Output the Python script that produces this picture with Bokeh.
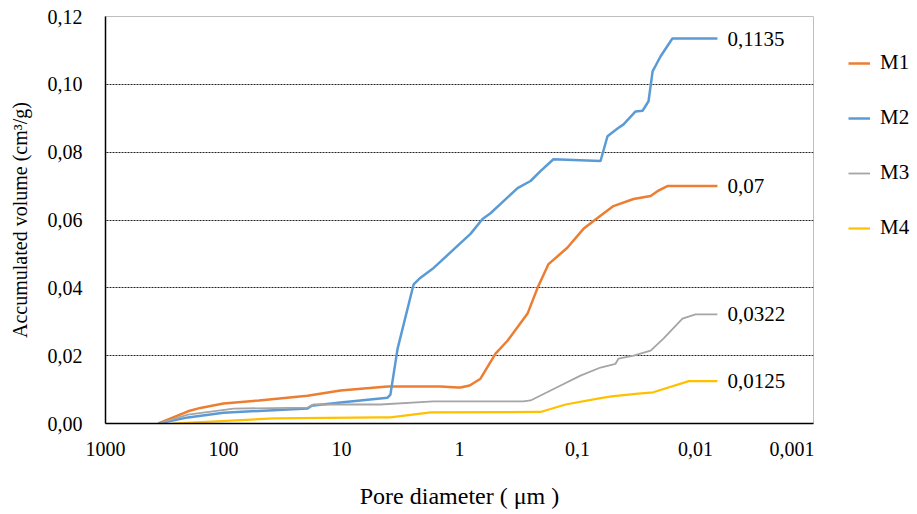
from bokeh.plotting import figure
from bokeh.layouts import row
from bokeh.models import Range1d, FixedTicker, Legend, LegendItem, ColumnDataSource
from bokeh.core.properties import value
from bokeh.embed import file_html
from bokeh.resources import INLINE

# ---- data (pore diameter in µm, accumulated volume in cm3/g) ----
series_names = ["M1", "M2", "M3", "M4"]
series_colors = ["#ED7D31", "#5B9BD5", "#A5A5A5", "#FFC000"]
series_widths = [2.5, 2.5, 1.8, 2.2]

M1_d = [356, 200, 157, 100, 50, 19.4, 10.2, 4.07, 1.45, 1.04, 0.98, 0.82, 0.664, 0.495,
        0.392, 0.265, 0.218, 0.176, 0.122, 0.089, 0.0677, 0.0496, 0.0335, 0.024, 0.021,
        0.0173, 0.00652]
M1_v = [0, 0.0036, 0.0046, 0.0059, 0.0068, 0.0082, 0.0097, 0.0109, 0.0109, 0.0106, 0.0106,
        0.0112, 0.0132, 0.0206, 0.0244, 0.0324, 0.040, 0.047, 0.0518, 0.0574, 0.0606,
        0.0641, 0.0662, 0.0671, 0.0685, 0.070, 0.070]

M2_d = [356, 200, 100, 19.4, 18, 10.2, 4.07, 3.85, 3.35, 2.45, 2.14, 1.69, 0.807, 0.638,
        0.546, 0.322, 0.25, 0.206, 0.16, 0.0638, 0.0557, 0.0458, 0.0407, 0.0322, 0.0281,
        0.025, 0.0231, 0.0198, 0.0157, 0.00652]
M2_v = [0, 0.0018, 0.0032, 0.0044, 0.0052, 0.0062, 0.0076, 0.0085, 0.022, 0.041, 0.043,
        0.0456, 0.0559, 0.0603, 0.062, 0.0694, 0.0715, 0.0744, 0.0779, 0.0774, 0.0847,
        0.087, 0.0882, 0.092, 0.0922, 0.095, 0.1038, 0.1082, 0.1135, 0.1135]

M3_d = [356, 200, 82, 19.4, 17.3, 4.67, 1.66, 0.287, 0.25, 0.139, 0.0944, 0.0638, 0.0476,
        0.045, 0.0335, 0.024, 0.0187, 0.0129, 0.01, 0.00652]
M3_v = [0, 0.0026, 0.0044, 0.0047, 0.0056, 0.0056, 0.0065, 0.0065, 0.0068, 0.0112, 0.0141,
        0.0165, 0.0176, 0.0191, 0.020, 0.0215, 0.025, 0.0309, 0.0322, 0.0322]

M4_d = [270, 37.7, 4.67, 3.87, 1.75, 0.206, 0.126, 0.0638, 0.0516, 0.0305, 0.0228, 0.0114,
        0.00652]
M4_v = [0, 0.0015, 0.0018, 0.0018, 0.0033, 0.0034, 0.0056, 0.0075, 0.0080, 0.0088, 0.0092,
        0.0125, 0.0125]

end_labels = ["0,07", "0,1135", "0,0322", "0,0125"]

x_ticks = [1000, 100, 10, 1, 0.1, 0.01, 0.001]
x_tick_labels = ["1000", "100", "10", "1", "0,1", "0,01", "0,001"]
y_ticks = [0, 0.02, 0.04, 0.06, 0.08, 0.10, 0.12]
y_tick_labels = ["0,00", "0,02", "0,04", "0,06", "0,08", "0,10", "0,12"]

FONT = "Liberation Serif"

p = figure(width=814, height=514, x_axis_type="log",
           x_range=Range1d(1000, 0.001), y_range=Range1d(0, 0.12),
           output_backend="svg", toolbar_location=None,
           min_border_left=105, min_border_right=1, min_border_top=15,
           min_border_bottom=91)

p.background_fill_color = "white"
p.border_fill_color = "white"
p.outline_line_color = "#BFBFBF"
p.outline_line_width = 1

# grid
p.xgrid.grid_line_color = None
p.ygrid.ticker = FixedTicker(ticks=y_ticks)
p.ygrid.grid_line_color = "#222222"
p.ygrid.grid_line_dash = "2 1"
p.ygrid.grid_line_width = 1

# axes
p.xaxis.ticker = FixedTicker(ticks=x_ticks)
p.xaxis.major_label_overrides = {t: l for t, l in zip(x_ticks, x_tick_labels)}
p.yaxis.ticker = FixedTicker(ticks=y_ticks)
p.yaxis.major_label_overrides = {t: l for t, l in zip(y_ticks, y_tick_labels)}
for ax in (p.xaxis[0], p.yaxis[0]):
    ax.axis_line_color = "black"
    ax.axis_line_width = 1.5
    ax.major_tick_line_color = None
    ax.minor_tick_line_color = None
    ax.major_label_text_font = FONT
    ax.major_label_text_font_size = "20px"
    ax.major_label_text_color = "black"
    ax.axis_label_text_font = FONT
    ax.axis_label_text_font_style = "normal"
    ax.axis_label_text_color = "black"

p.xaxis.axis_label = "Pore diameter ( μm )"
p.yaxis.axis_label = "Accumulated volume (cm³/g)"
p.xaxis.axis_label_text_font_size = "24px"
p.yaxis.axis_label_text_font_size = "20px"
p.xaxis.major_label_standoff = 12
p.xaxis.axis_label_standoff = 24
p.yaxis.major_label_standoff = 17
p.yaxis.axis_label_standoff = 14

all_d = [M1_d, M2_d, M3_d, M4_d]
all_v = [M1_v, M2_v, M3_v, M4_v]
for name, color, w, d, v in zip(series_names, series_colors, series_widths, all_d, all_v):
    src = ColumnDataSource(dict(x=d, y=v))
    p.line("x", "y", source=src, line_color=color, line_width=w)

# end-value labels
lab_src = ColumnDataSource(dict(x=[d[-1] for d in all_d], y=[v[-1] for v in all_v],
                                t=end_labels))
p.text(x="x", y="y", text="t", source=lab_src, x_offset=10,
       text_font=value(FONT), text_font_size="21px", text_color="black",
       text_baseline="middle", text_align="left")

# ---- legend panel (separate narrow figure to the right) ----
# its y range lies above all data, so the series drawn here stay out of view
lg = figure(width=103, height=514, x_range=Range1d(0, 1), y_range=Range1d(1, 2),
            output_backend="svg", toolbar_location=None,
            min_border_left=0, min_border_right=0, min_border_top=16, min_border_bottom=0)
lg.axis.visible = False
lg.grid.grid_line_color = None
lg.outline_line_color = None
lg.background_fill_color = "white"
lg.border_fill_color = "white"

items = []
for name, color, w, d, v in zip(series_names, series_colors, series_widths, all_d, all_v):
    r = lg.line(x=d, y=v, line_color=color, line_width=w)
    items.append(LegendItem(label=name, renderers=[r]))

legend = Legend(items=items, location="top_left", orientation="vertical",
                label_text_font=FONT, label_text_font_size="21px",
                label_text_color="black", glyph_width=22, glyph_height=20,
                label_height=20, label_standoff=10, spacing=30, padding=0,
                margin=34, border_line_color=None, background_fill_alpha=0)
lg.add_layout(legend, "center")

layout = row(p, lg)
open("out.html", "w").write(file_html(layout, INLINE))
